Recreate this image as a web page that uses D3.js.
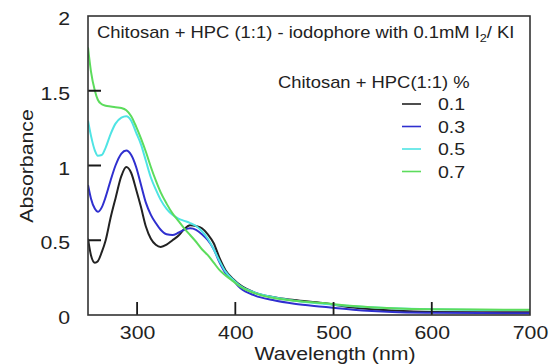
<!DOCTYPE html>
<html>
<head>
<meta charset="utf-8">
<script src="https://cdn.jsdelivr.net/npm/d3@7"></script>
<style>
  body { margin: 0; background: #fff; }
  svg { display: block; font-family: 'Liberation Sans', Arial, sans-serif; }
  .axis path { display: none; }
  .axis text { fill: #222; font-size: 18.5px; }
</style>
</head>
<body>
<svg id="chart" width="551" height="364"></svg>
<script>
const wavelength = [250, 253, 257, 260, 264, 268, 273, 278, 284, 289, 294, 299, 304, 309, 314, 319, 324, 330, 336, 342, 348, 354, 360, 366, 372, 378, 384, 390, 398, 405, 420, 438, 460, 489, 520, 560, 600, 650, 700];

const abs01 = [0.51, 0.40, 0.35, 0.36, 0.42, 0.50, 0.65, 0.78, 0.93, 0.99, 0.95, 0.84, 0.72, 0.59, 0.51, 0.47, 0.455, 0.47, 0.50, 0.53, 0.575, 0.60, 0.595, 0.58, 0.54, 0.48, 0.38, 0.30, 0.24, 0.20, 0.15, 0.12, 0.10, 0.08, 0.05, 0.03, 0.02, 0.018, 0.018];
const abs03 = [0.87, 0.78, 0.71, 0.69, 0.72, 0.79, 0.90, 1.00, 1.08, 1.10, 1.07, 0.99, 0.87, 0.75, 0.67, 0.615, 0.57, 0.54, 0.535, 0.55, 0.57, 0.58, 0.57, 0.54, 0.50, 0.44, 0.35, 0.28, 0.23, 0.18, 0.13, 0.10, 0.075, 0.055, 0.035, 0.02, 0.015, 0.013, 0.012];
const abs05 = [1.30, 1.20, 1.10, 1.065, 1.07, 1.12, 1.21, 1.28, 1.32, 1.33, 1.30, 1.22, 1.14, 1.03, 0.92, 0.84, 0.77, 0.71, 0.67, 0.645, 0.63, 0.615, 0.595, 0.56, 0.51, 0.44, 0.36, 0.29, 0.235, 0.195, 0.15, 0.12, 0.095, 0.075, 0.058, 0.045, 0.038, 0.034, 0.033];
const abs07 = [1.79, 1.63, 1.50, 1.44, 1.41, 1.40, 1.395, 1.39, 1.385, 1.37, 1.33, 1.26, 1.18, 1.09, 0.99, 0.90, 0.82, 0.745, 0.68, 0.63, 0.58, 0.535, 0.49, 0.44, 0.40, 0.35, 0.30, 0.265, 0.225, 0.19, 0.145, 0.115, 0.095, 0.08, 0.06, 0.045, 0.038, 0.036, 0.035];

const seriesNames = ['0.1', '0.3', '0.5', '0.7'];
const seriesValues = [abs01, abs03, abs05, abs07];
const colors = ['#222222', '#2f2fcf', '#4fe4e4', '#5cdc5c'];

const xTicks = [300, 400, 500, 600, 700];
const yTicks = [0, 0.5, 1, 1.5, 2];
const yTickLabels = ['0', '0.5', '1', '1.5', '2'];

const stretch = 1.15;

const svg = d3.select('#chart');
const plotLeft = 88, plotRight = 530, plotTop = 16, plotBottom = 315;

const x = d3.scaleLinear().domain([250, 700]).range([plotLeft, plotRight]);
const y = d3.scaleLinear().domain([0, 2]).range([plotBottom, plotTop]);

svg.append('defs').append('clipPath').attr('id', 'plot-clip')
  .append('rect')
  .attr('x', plotLeft).attr('y', plotTop)
  .attr('width', plotRight - plotLeft).attr('height', plotBottom - plotTop);

// axis labels via d3-axis
const axisY = d3.axisLeft(y).tickValues(yTicks).tickSize(0).tickPadding(0)
  .tickFormat((d, i) => yTickLabels[i]);
const gy = svg.append('g').attr('class', 'axis').attr('transform', `translate(${plotLeft},0)`).call(axisY);
gy.selectAll('text')
  .attr('x', null).attr('dy', null)
  .attr('text-anchor', 'end')
  .attr('transform', `translate(-18,8.5) scale(${stretch},1)`);

const axisX = d3.axisBottom(x).tickValues(xTicks).tickSize(0).tickPadding(0)
  .tickFormat(d3.format('d'));
const gx = svg.append('g').attr('class', 'axis').attr('transform', `translate(0,${plotBottom})`).call(axisX);
gx.selectAll('text')
  .attr('y', null).attr('dy', null)
  .attr('text-anchor', 'middle')
  .attr('transform', `translate(0,24) scale(${stretch},1)`);

// curves
const line = d3.line()
  .x((d, i) => x(wavelength[i]))
  .y(d => y(d))
  .curve(d3.curveMonotoneX);

svg.append('g').attr('clip-path', 'url(#plot-clip)')
  .selectAll('path')
  .data(seriesValues)
  .join('path')
  .attr('d', line)
  .attr('fill', 'none')
  .attr('stroke', (d, i) => colors[i])
  .attr('stroke-width', 2);

// inward tick marks, drawn as one path each
const tickPath = d3.path();
yTicks.slice(1, -1).forEach(d => {
  tickPath.moveTo(plotLeft, y(d));
  tickPath.lineTo(plotLeft + 13, y(d));
});
xTicks.slice(0, -1).forEach(d => {
  tickPath.moveTo(x(d), plotBottom);
  tickPath.lineTo(x(d), plotBottom - 13);
});
svg.append('path')
  .attr('d', tickPath.toString())
  .attr('fill', 'none')
  .attr('stroke', '#1a1a1a')
  .attr('stroke-width', 1.8);

// frame
svg.append('rect')
  .attr('x', plotLeft).attr('y', plotTop)
  .attr('width', plotRight - plotLeft).attr('height', plotBottom - plotTop)
  .attr('fill', 'none').attr('stroke', '#333').attr('stroke-width', 1.6);

function label(txt, px, py, size, anchor, rot = 0) {
  return svg.append('text')
    .attr('transform', `translate(${px},${py}) rotate(${rot}) scale(${stretch},1)`)
    .attr('text-anchor', anchor)
    .attr('font-size', size)
    .attr('fill', '#222')
    .text(txt);
}

// title with subscript
const title = label('Chitosan + HPC (1:1) - iodophore with 0.1mM I', 97, 38, 16, 'start');
title.append('tspan').attr('font-size', 11).attr('dy', 4).text('2');
title.append('tspan').attr('dy', -4).text('/ KI');

// legend
label('Chitosan + HPC(1:1) %', 278, 88, 16, 'start');
const legend = svg.append('g');
seriesNames.forEach((name, i) => {
  const ly = 110 + i * 22.5;
  legend.append('line')
    .attr('x1', 402).attr('x2', 421)
    .attr('y1', ly - 6).attr('y2', ly - 6)
    .attr('stroke', colors[i]).attr('stroke-width', 1.6);
  label(name, 438, ly, 17, 'start');
});

// axis titles
label('Absorbance', 33, 166, 18.5, 'middle', -90);
label('Wavelength (nm)', 335, 360, 18.5, 'middle');
</script>
</body>
</html>
